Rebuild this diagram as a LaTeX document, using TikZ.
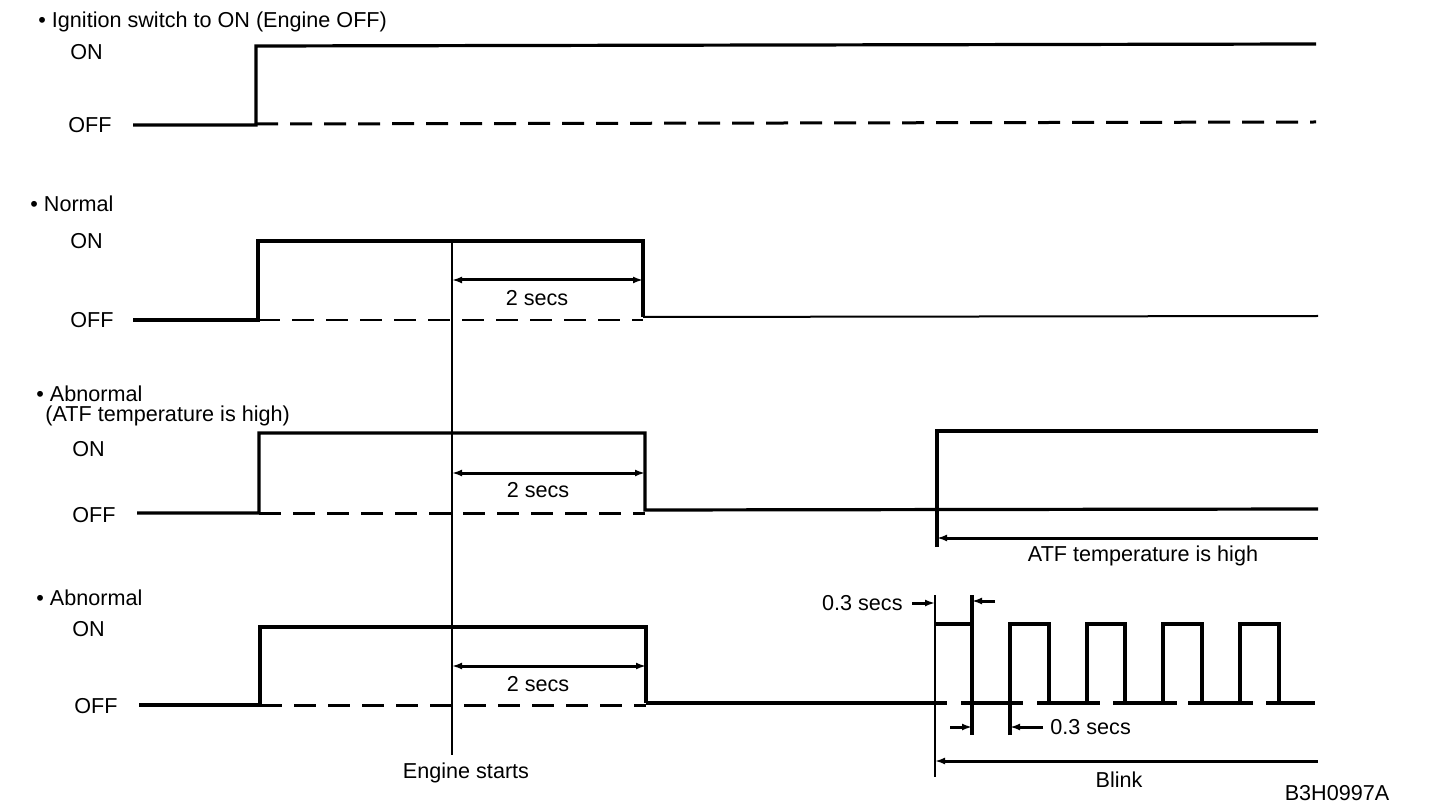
\documentclass[tikz,border=0pt]{standalone}
\usepackage{fontspec}
\setmainfont{Liberation Sans}
\usetikzlibrary{arrows.meta}
\begin{document}
\begin{tikzpicture}[x=0.5pt,y=-0.5pt,
  lbl/.style={inner sep=0pt,anchor=west,font=\fontsize{10.8}{13}\selectfont},
  txt/.style={inner sep=0pt,font=\fontsize{10.8}{13}\selectfont},
  sig/.style={line width=1.6pt,line join=miter},
  thinl/.style={line width=1pt},
  dsh/.style={line width=1.5pt,dash pattern=on 11pt off 6pt},
  dshthin/.style={line width=1pt,dash pattern=on 11pt off 6pt},
  tipl/.style={line width=1.5pt,-{Latex[length=5pt,width=3.5pt]}},
  tipb/.style={line width=1.5pt,{Latex[length=5pt,width=3.5pt]}-{Latex[length=5pt,width=3.5pt]}},
  tipr/.style={line width=1.5pt,{Latex[length=5pt,width=3.5pt]}-},
]
\useasboundingbox (0,0) rectangle (1440,812);
\fill[white] (0,0) rectangle (1440,812);

% ---------- labels ----------
\node[lbl] (t1) at (38,22) {• Ignition switch to ON (Engine OFF)};
\node[lbl] (on1) at (70,52) {ON};
\node[lbl] (off1) at (68,125) {OFF};

\node[lbl] (t2) at (30,204) {• Normal};
\node[lbl] (on2) at (70,241) {ON};
\node[lbl] (off2) at (70,320) {OFF};

\node[lbl] (t3a) at (36,394) {• Abnormal};
\node[lbl] (t3b) at (45,416) {(ATF temperature is high)};
\node[lbl] (on3) at (72,449) {ON};
\node[lbl] (off3) at (72,515) {OFF};

\node[lbl] (t4) at (36,598) {• Abnormal};
\node[lbl] (on4) at (72,629) {ON};
\node[lbl] (off4) at (74,706) {OFF};

% ---------- row 1 ----------
\draw[sig] (133,125) -- (256,125) -- (256,46) -- (1316,44);
\draw[dsh] (256,124) -- (1316,122);

% ---------- row 2 ----------
\draw[sig] (133,320) -- (258,320) -- (258,241) -- (643,241) -- (643,317);
\draw[thinl] (643,317) -- (1318,316);
\draw[dshthin] (258,320) -- (643,320);
\coordinate (d2a) at (452,280);
\coordinate (d2b) at (643,280);
\draw[tipb] (d2a) -- (d2b);
\node[txt] (s2) at (537,298) {2 secs};

% ---------- row 3 ----------
\draw[sig] (137,513) -- (259,513) -- (259,433) -- (645,433) -- (645,510) -- (1318,509);
\draw[dsh] (259,513) -- (645,513);
\coordinate (d3a) at (452,473);
\coordinate (d3b) at (645,473);
\draw[tipb] (d3a) -- (d3b);
\node[txt] (s3) at (538,490) {2 secs};
\draw[sig] (937,547) -- (937,431) -- (1318,431);
\coordinate (atfa) at (937,538);
\coordinate (atfb) at (1318,538);
\draw[tipr] (atfa) -- (atfb);
\node[txt] (atf) at (1143,556) {ATF temperature is high};

% ---------- row 4 ----------
\draw[sig] (139,705) -- (260,705) -- (260,627) -- (646,627) -- (646,703);
\draw[dsh] (260,705) -- (646,705);
\coordinate (d4a) at (452,666);
\coordinate (d4b) at (646,666);
\draw[tipb] (d4a) -- (d4b);
\node[txt] (s4) at (538,684) {2 secs};

% baseline (gaps under the pulses)
\draw[sig] (646,703) -- (947,703);
\draw[sig] (961,703) -- (1023,703);
\draw[sig] (1037,703) -- (1100,703);
\draw[sig] (1113,703) -- (1177,703);
\draw[sig] (1188,703) -- (1253,703);
\draw[sig] (1266,703) -- (1315,703);

% pulses
\draw[thinl] (935,595) -- (935,777);
\draw[sig] (935,624) -- (972,624);
\draw[sig] (972,595) -- (972,735);
\draw[sig] (1010,735) -- (1010,624) -- (1049,624) -- (1049,703);
\draw[sig] (1087,703) -- (1087,624) -- (1125,624) -- (1125,703);
\draw[sig] (1163,703) -- (1163,624) -- (1202,624) -- (1202,703);
\draw[sig] (1240,703) -- (1240,624) -- (1279,624) -- (1279,703);

% 0.3 secs dimensions
\coordinate (p1) at (935,603);
\coordinate (p2) at (972,601);
\draw[tipl] (912,603) -- (p1);
\draw[tipl] (995,601) -- (p2);
\node[txt,anchor=east] (s03a) at (903,603) {0.3 secs};
\coordinate (q1) at (972,727);
\coordinate (q2) at (1010,727);
\draw[tipl] (950,727) -- (q1);
\draw[tipl] (1043,727) -- (q2);
\node[txt,anchor=west] (s03b) at (1050,727) {0.3 secs};

% blink
\coordinate (bla) at (935,761);
\coordinate (blb) at (1318,761);
\draw[tipr] (bla) -- (blb);
\node[txt] (blink) at (1119,780) {Blink};

% engine starts
\coordinate (esTop) at (452,241);
\coordinate (esBot) at (452,755);
\draw[line width=1.1pt] (esTop) -- (esBot);
\node[txt] (es) at (466,773) {Engine starts};

\node[txt] (code) at (1337,793) {B3H0997A};
\end{tikzpicture}
\end{document}
